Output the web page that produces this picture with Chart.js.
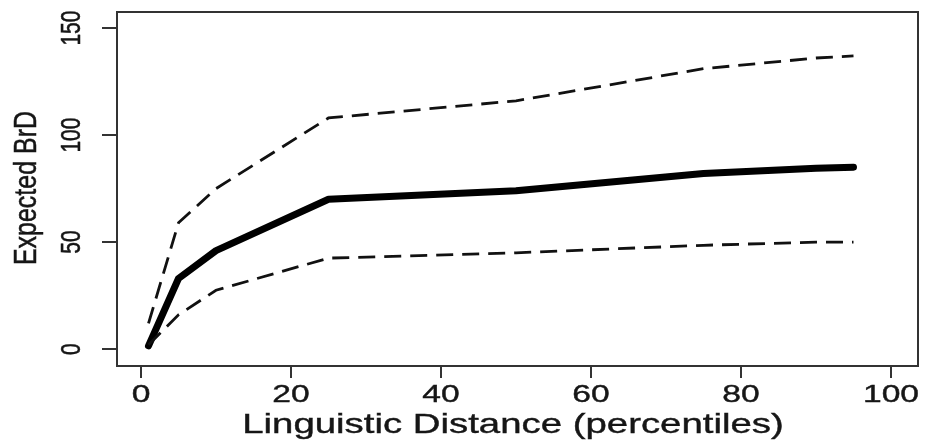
<!DOCTYPE html>
<html>
<head>
    <meta charset="UTF-8">
    <title>Expected BrD</title>
    <script src="https://cdn.jsdelivr.net/npm/chart.js@4.4.1/dist/chart.umd.min.js"></script>
</head>
<style>
    body { margin: 0; background: #fff; }
</style>
<body>
    <canvas id="chart" width="930" height="441"></canvas>

    <script>
        // linguistic distance percentiles and the fitted curve with its band
        var distance = [1, 5, 10, 25, 50, 75, 90, 95];
        var expected = [1.5, 33, 46, 70, 74, 82, 84.5, 85];
        var upper = [12, 59, 75, 108, 116, 131, 136, 137];
        var lower = [2, 16, 27.5, 42.5, 45, 48.5, 50, 50];
        var xTicks = [0, 20, 40, 60, 80, 100];
        var yTicks = [0, 50, 100, 150];

        var textColor = '#161616';
        var stretch = 1.4; // the source image is widened, text looks stretched

        function points(ys) {
            return distance.map((x, i) => ({x: x, y: ys[i]}));
        }

        // box around the plot plus the R-style stretched labels
        var rPlot = {
            id: 'rPlot',
            afterDraw(chart) {
                var ctx = chart.ctx;
                var a = chart.chartArea;
                var sx = chart.scales.x, sy = chart.scales.y;
                ctx.save();
                ctx.strokeStyle = '#333';
                ctx.lineWidth = 2;
                ctx.strokeRect(a.left, a.top, a.right - a.left, a.bottom - a.top);

                ctx.fillStyle = textColor;
                ctx.strokeStyle = textColor;
                ctx.lineWidth = 0.4;
                ctx.textAlign = 'center';
                ctx.textBaseline = 'alphabetic';

                // x tick labels
                ctx.font = '24px "Liberation Sans", Arial, sans-serif';
                xTicks.forEach(v => {
                    ctx.save();
                    ctx.translate(sx.getPixelForValue(v), 402);
                    ctx.scale(stretch, 1);
                    ctx.fillText(String(v), 0, 0);
                    ctx.strokeText(String(v), 0, 0);
                    ctx.restore();
                });

                // x title
                ctx.font = '28px "Liberation Sans", Arial, sans-serif';
                ctx.save();
                ctx.translate(513, 433);
                ctx.scale(1.37, 1);
                ctx.fillText('Linguistic Distance (percentiles)', 0, 0);
                ctx.strokeText('Linguistic Distance (percentiles)', 0, 0);
                ctx.restore();

                // y tick labels, rotated
                ctx.font = '21px "Liberation Sans", Arial, sans-serif';
                yTicks.forEach(v => {
                    ctx.save();
                    ctx.translate(80, sy.getPixelForValue(v));
                    ctx.rotate(-Math.PI / 2);
                    ctx.scale(1, 1.3);
                    ctx.fillText(String(v), 0, 0);
                    ctx.strokeText(String(v), 0, 0);
                    ctx.restore();
                });

                // y title
                ctx.font = '25px "Liberation Sans", Arial, sans-serif';
                ctx.save();
                ctx.translate(36, 188);
                ctx.rotate(-Math.PI / 2);
                ctx.scale(1, 1.28);
                ctx.fillText('Expected BrD', 0, 0);
                ctx.strokeText('Expected BrD', 0, 0);
                ctx.restore();

                ctx.restore();
            }
        };

        new Chart(document.getElementById('chart'), {
            type: 'line',
            data: {
                datasets: [{
                    label: 'Upper',
                    data: points(upper),
                    borderColor: '#111',
                    borderWidth: 2.8,
                    borderDash: [17, 9]
                }, {
                    label: 'Lower',
                    data: points(lower),
                    borderColor: '#111',
                    borderWidth: 2.8,
                    borderDash: [17, 9]
                }, {
                    label: 'Expected BrD',
                    data: points(expected),
                    borderColor: '#000',
                    borderWidth: 7,
                    borderJoinStyle: 'round',
                    borderCapStyle: 'round'
                }]
            },
            options: {
                responsive: false,
                animation: false,
                layout: {padding: {top: 12, right: 12, left: 0, bottom: 0}},
                elements: {point: {radius: 0}, line: {tension: 0, fill: false}},
                plugins: {legend: {display: false}, tooltip: {enabled: false}},
                scales: {
                    x: {
                        type: 'linear',
                        min: -3.2,
                        max: 103.6,
                        afterBuildTicks: s => { s.ticks = xTicks.map(v => ({value: v})); },
                        afterFit: s => { s.height = 75; },
                        ticks: {display: false},
                        border: {display: false},
                        grid: {drawOnChartArea: false, drawTicks: true, tickLength: 12, tickColor: '#333', lineWidth: 2}
                    },
                    y: {
                        type: 'linear',
                        min: -7.9,
                        max: 157.5,
                        afterBuildTicks: s => { s.ticks = yTicks.map(v => ({value: v})); },
                        afterFit: s => { s.width = 117; },
                        ticks: {display: false},
                        border: {display: false},
                        grid: {drawOnChartArea: false, drawTicks: true, tickLength: 15, tickColor: '#333', lineWidth: 2}
                    }
                }
            },
            plugins: [rPlot]
        });
    </script>
</body>
</html>
